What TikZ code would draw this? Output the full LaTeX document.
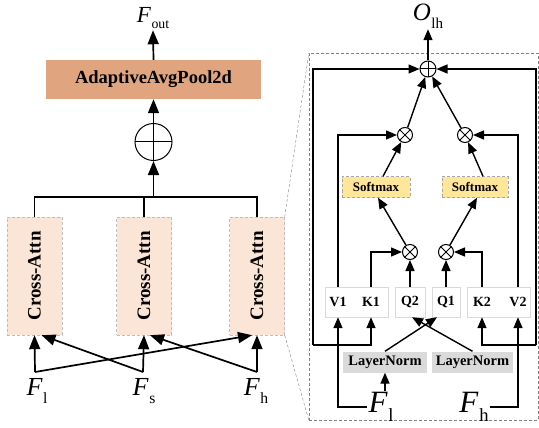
\documentclass[tikz,border=0pt]{standalone}
\usepackage{fontspec}
\setmainfont{Liberation Serif}
\usetikzlibrary{arrows.meta}
\definecolor{poolc}{RGB}{224,164,126}
\definecolor{attnc}{RGB}{251,229,214}
\definecolor{softc}{RGB}{255,230,153}
\definecolor{normc}{RGB}{218,218,218}
\definecolor{edgec}{RGB}{190,190,190}
\newcommand{\feat}[2]{\textit{#1}\kern0.02em\raisebox{-0.3em}{\scalebox{0.6}{#2}}}
\newcommand{\fsz}[1]{\fontsize{#1}{#1}\selectfont}

\begin{document}
\begin{tikzpicture}
    [x=1pt,y=-1pt,
     arr/.style={-{Triangle[length=14pt,width=11pt]},line width=1.7pt},
     sarr/.style={-{Triangle[length=11pt,width=9pt]},line width=1.4pt},
     plain/.style={line width=1.5pt},
     lbl/.style={inner sep=1pt},
     pool/.style={fill=poolc,minimum width=215pt,minimum height=39pt,inner sep=0pt,font=\fsz{18.5}\bfseries},
     attn/.style={fill=attnc,draw=edgec,densely dashed,thin,minimum width=55pt,minimum height=118pt,inner sep=0pt,font=\fsz{19}\bfseries},
     soft/.style={fill=softc,draw=gray!70,densely dashed,thin,minimum height=21pt,inner sep=0pt,font=\fsz{13}\bfseries},
     norm/.style={fill=normc,minimum height=21pt,inner sep=0pt,font=\fsz{14.5}\bfseries},
     vec/.style={draw=gray!30,fill=white,minimum height=30pt,inner sep=0pt},
     vname/.style={inner sep=0pt,font=\fsz{14}\bfseries},
     oplus/.style={circle,draw,line width=1pt,minimum size=#1,inner sep=0pt,
       path picture={\draw[line width=1pt] (path picture bounding box.north) -- (path picture bounding box.south)
         (path picture bounding box.west) -- (path picture bounding box.east);}},
     otimes/.style={circle,draw,line width=1pt,minimum size=#1,inner sep=0pt,
       path picture={\draw[line width=1pt] (path picture bounding box.north west) -- (path picture bounding box.south east)
         (path picture bounding box.north east) -- (path picture bounding box.south west);}},
     zoomline/.style={draw=gray,densely dashed,thin}]
    \useasboundingbox (0,0) rectangle (539,428);

    % left branch
    \node[lbl,font=\fsz{23}] (fout) at (153,18) {\feat{F}{out}};
    \node[pool] (pool) at (153.5,79.5) {AdaptiveAvgPool2d};
    \node[oplus=37pt] (sum) at (153.5,142) {};
    \node[attn] (ca1) at (34.5,276) {\rotatebox{90}{Cross-Attn}};
    \node[attn] (ca2) at (144,276) {\rotatebox{90}{Cross-Attn}};
    \node[attn] (ca3) at (257,276) {\rotatebox{90}{Cross-Attn}};
    \node[lbl,font=\fsz{26}] (fl) at (37,391) {\feat{F}{l}};
    \node[lbl,font=\fsz{26}] (fs) at (144,391) {\feat{F}{s}};
    \node[lbl,font=\fsz{26}] (fh) at (256,391) {\feat{F}{h}};
    \coordinate (merge) at (144,197);
    \coordinate (join) at (153.5,197);
    \coordinate (l0) at (35,372);
    \coordinate (s0) at (143,372);
    \coordinate (h0) at (257,372);
    \draw[arr] (pool.north) -- (fout.south);
    \draw[arr] (sum.north) -- (pool.south);
    \draw[arr] (join) -- (sum.south);
    \draw[plain] (ca1.north) |- (merge) -| (ca3.north);
    \draw[plain] (ca2.north) -- (merge);
    \draw[arr] (l0) -- (ca1.south);
    \draw[arr] (l0) -- ([xshift=-5pt]ca3.south);
    \draw[arr] (s0) -- (ca2.south);
    \draw[arr] (s0) -- ([xshift=7pt]ca1.south);
    \draw[arr] (h0) -- (ca3.south);
    \draw[arr] (h0) -- ([xshift=6pt]ca2.south);

    % zoomed cross attention
    \node[draw=gray,densely dashed,thin,minimum width=229pt,minimum height=367pt,inner sep=0pt] (frame) at (423.5,236.5) {};
    \draw[zoomline] (ca3.north east) -- (frame.north west);
    \draw[zoomline] (ca3.south east) -- (frame.south west);
    \node[lbl,font=\fsz{25}] (olh) at (428,16) {\feat{O}{lh}};
    \node[oplus=16pt] (osum) at (428,69) {};
    \node[otimes=15pt] (mull) at (405,135) {};
    \node[otimes=15pt] (mulr) at (465,135) {};
    \node[soft,minimum width=68pt] (softl) at (376,187) {Softmax};
    \node[soft,minimum width=66pt] (softr) at (475,187) {Softmax};
    \node[otimes=15pt] (qkl) at (410,252) {};
    \node[otimes=15pt] (qkr) at (446,252) {};
    \node[vec,minimum width=63pt] (vk1) at (356.5,302) {};
    \node[vec,minimum width=30pt] (q2) at (410,302) {};
    \node[vec,minimum width=28pt] (q1) at (446,302) {};
    \node[vec,minimum width=63pt] (kv2) at (498.5,302) {};
    \node[vname] (v1) at (338,302) {V1};
    \node[vname] (k1) at (371,302) {K1};
    \node[vname] at (q2) {Q2};
    \node[vname] at (q1) {Q1};
    \node[vname] (k2) at (482,302) {K2};
    \node[vname] (v2) at (518,302) {V2};
    \node[norm,minimum width=84pt] (ln1) at (385,362) {LayerNorm};
    \node[norm,minimum width=81pt] (ln2) at (472.5,362) {LayerNorm};
    \node[lbl,font=\fsz{31}] (fl2) at (381,407) {\feat{F}{l}};
    \node[lbl,font=\fsz{31}] (fh2) at (474,407) {\feat{F}{h}};
    \coordinate (lc) at (313,345);
    \coordinate (rc) at (536,345);
    \draw[sarr] (osum.north) -- (olh.south);
    \draw[sarr] (mull) -- (osum);
    \draw[sarr] (mulr) -- (osum);
    \draw[sarr] ([xshift=7pt]softl.north) -- (mull);
    \draw[sarr] ([xshift=8pt]softr.north) -- (mulr);
    \draw[sarr] (qkl) -- ([xshift=2pt]softl.south);
    \draw[sarr] (qkr) -- ([xshift=2pt]softr.south);
    \draw[sarr] (q2.north) -- (qkl.south);
    \draw[sarr] (q1.north) -- (qkr.south);
    \draw[sarr] (k1 |- vk1.north) |- (qkl.west);
    \draw[sarr] (k2 |- kv2.north) |- (qkr.east);
    \draw[sarr] (v1 |- vk1.north) |- (mull.west);
    \draw[sarr] (v2 |- kv2.north) |- (mulr.east);
    \draw[sarr] (lc) -| (k1 |- vk1.south);
    \draw[sarr] (lc) |- (osum.west);
    \draw[sarr] (rc) -| (k2 |- kv2.south);
    \draw[sarr] (rc) |- (osum.east);
    \draw[sarr] (ln1.north) -- ([xshift=-9pt]q1.south);
    \draw[sarr] (ln2.north) -- ([xshift=2pt]q2.south);
    \draw[sarr] (ln1.south |- fl2.north) -- (ln1.south);
    \draw[sarr] (fl2.west) -| (v1 |- vk1.south);
    \draw[sarr] (fh2.east) -| (v2 |- kv2.south);
\end{tikzpicture}
\end{document}
